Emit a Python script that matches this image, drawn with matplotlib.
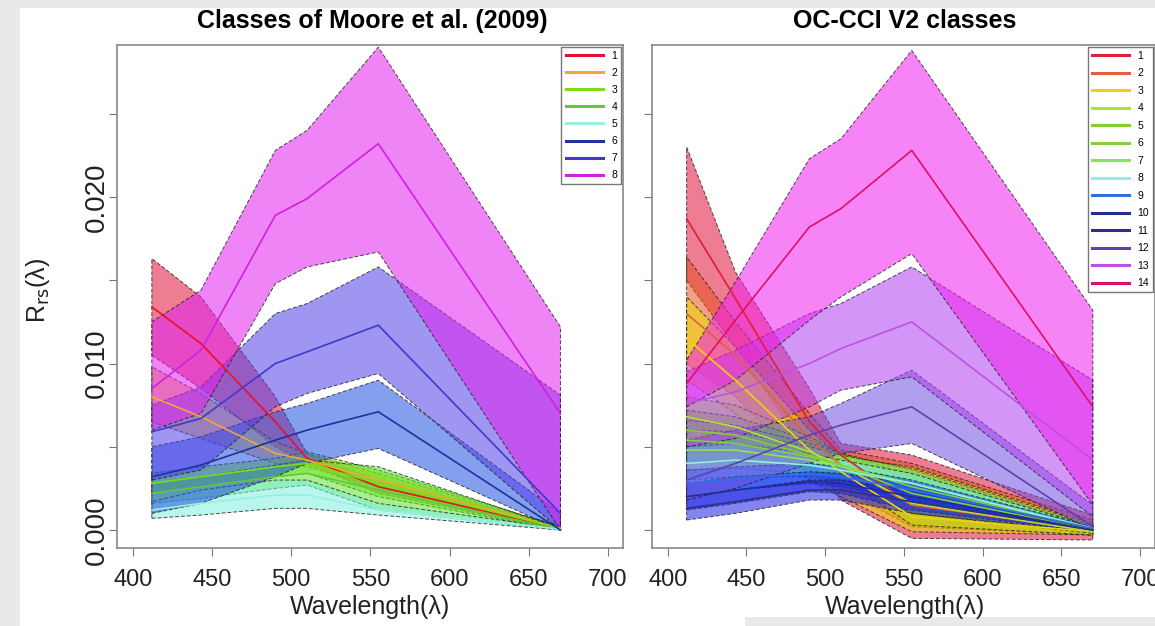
import numpy as np
import matplotlib.pyplot as plt
from matplotlib.patches import Rectangle
from matplotlib.colors import to_rgba

plt.rcParams['font.family'] = ['Liberation Sans', 'DejaVu Sans']

# band wavelengths (nm)
wl = [412, 443, 490, 510, 555, 670]

# Rrs values are given in units of 1e-3 sr^-1
# --- left panel: Moore et al. (2009), 8 classes
moore_labels = ['1', '2', '3', '4', '5', '6', '7', '8']
moore_lower = [
    [10.5, 8.5, 5.0, 4.0, 2.2, 0.0],
    [6.5, 5.5, 4.0, 3.8, 2.6, 0.0],
    [2.2, 2.6, 3.2, 3.4, 2.0, 0.0],
    [1.6, 1.9, 2.5, 2.7, 1.2, 0.0],
    [0.7, 0.9, 1.3, 1.3, 0.9, 0.0],
    [1.0, 1.6, 3.2, 4.0, 4.9, 0.0],
    [3.0, 3.6, 7.4, 8.2, 9.4, 0.0],
    [6.0, 7.0, 14.8, 15.8, 16.7, 0.0],
]
moore_mean = [
    [13.4, 11.2, 6.5, 4.3, 2.6, 0.1],
    [8.0, 6.8, 4.6, 4.2, 3.0, 0.1],
    [2.8, 3.2, 3.8, 4.0, 2.8, 0.1],
    [2.2, 2.6, 3.2, 3.4, 2.4, 0.0],
    [1.2, 1.6, 2.1, 2.1, 1.2, 0.05],
    [3.2, 3.9, 5.4, 6.0, 7.1, 0.0],
    [5.9, 6.7, 10.0, 10.7, 12.3, 1.0],
    [8.5, 10.8, 18.9, 19.9, 23.2, 7.0],
]
moore_upper = [
    [16.3, 14.0, 8.0, 4.6, 3.0, 0.3],
    [9.8, 8.2, 5.3, 4.6, 3.4, 0.2],
    [3.4, 3.8, 4.3, 4.7, 3.6, 0.2],
    [2.8, 3.2, 3.9, 4.2, 3.8, 0.1],
    [1.7, 2.4, 3.0, 3.0, 1.6, 0.1],
    [5.0, 5.6, 7.1, 7.6, 9.0, 1.0],
    [7.5, 8.6, 13.0, 13.6, 15.8, 8.1],
    [12.5, 14.4, 22.8, 24.0, 29.0, 12.2],
]
moore_lines = ['#e8102a', '#f0a838', '#78e010', '#62c83c', '#98f0e0',
               '#2030a0', '#4038d0', '#d020e0']
moore_fills = ['#e0103a', '#f0a030', '#88f010', '#60e030', '#80f0e0',
               '#2050e0', '#5040e8', '#e020f0']

# --- right panel: OC-CCI V2, 14 classes
occci_labels = [str(i) for i in range(1, 15)]
occci_lower = [
    [15.0, 11.0, 4.5, 1.8, -0.5, -0.6],
    [10.0, 8.0, 3.5, 2.5, 0.2, -0.3],
    [9.0, 7.0, 3.0, 2.0, -0.1, -0.3],
    [5.5, 5.0, 3.8, 3.2, 0.3, -0.3],
    [4.8, 4.6, 3.7, 3.2, 1.0, -0.2],
    [4.2, 4.1, 3.6, 3.2, 1.6, -0.1],
    [3.6, 3.7, 3.4, 3.1, 2.0, 0.0],
    [3.0, 3.2, 3.2, 3.0, 2.2, 0.0],
    [2.0, 2.4, 2.8, 2.6, 1.8, 0.0],
    [1.2, 1.6, 2.3, 2.2, 1.2, -0.1],
    [0.6, 1.0, 1.8, 1.8, 1.0, -0.1],
    [1.8, 2.5, 4.0, 4.6, 5.2, 0.0],
    [5.0, 5.5, 7.4, 8.4, 9.2, 0.8],
    [7.4, 9.0, 12.6, 14.0, 16.6, 1.5],
]
occci_mean = [
    [18.7, 13.9, 6.5, 4.5, 1.5, 0.0],
    [13.0, 10.5, 5.5, 3.9, 1.5, 0.0],
    [11.5, 9.0, 4.8, 3.5, 0.8, -0.1],
    [6.8, 6.2, 4.7, 3.9, 1.6, -0.1],
    [6.0, 5.7, 4.5, 3.9, 2.2, 0.0],
    [5.4, 5.2, 4.4, 3.9, 2.6, 0.1],
    [4.8, 4.8, 4.2, 3.8, 2.8, 0.1],
    [4.0, 4.2, 3.9, 3.6, 2.8, 0.1],
    [2.8, 3.1, 3.4, 3.2, 2.4, 0.1],
    [2.0, 2.4, 2.9, 2.8, 2.0, 0.0],
    [1.3, 1.7, 2.4, 2.4, 1.7, 0.0],
    [3.0, 4.0, 5.7, 6.3, 7.4, 0.2],
    [7.6, 8.3, 10.0, 10.9, 12.5, 4.2],
    [8.8, 12.6, 18.2, 19.3, 22.8, 7.4],
]
occci_upper = [
    [23.0, 15.5, 8.5, 5.2, 4.5, 0.9],
    [16.4, 12.5, 7.0, 4.8, 4.0, 0.6],
    [14.0, 11.0, 6.0, 4.4, 3.8, 0.4],
    [8.0, 7.5, 5.6, 4.6, 3.0, 0.1],
    [7.2, 6.8, 5.4, 4.6, 3.3, 0.2],
    [6.6, 6.3, 5.2, 4.6, 3.6, 0.2],
    [6.0, 5.9, 5.0, 4.5, 3.7, 0.3],
    [5.0, 5.2, 4.6, 4.2, 3.4, 0.2],
    [3.6, 3.8, 4.0, 3.8, 3.0, 0.2],
    [2.8, 3.2, 3.5, 3.4, 2.8, 0.1],
    [2.0, 2.4, 3.0, 3.0, 2.4, 0.1],
    [5.4, 6.0, 6.8, 7.6, 9.6, 1.5],
    [9.5, 10.8, 13.0, 13.6, 15.8, 9.0],
    [10.2, 14.9, 22.3, 23.5, 28.8, 13.2],
]
occci_lines = ['#e02030', '#e06040', '#f0d010', '#b0e030', '#80d030',
               '#80d040', '#90e060', '#90f0e0', '#3070e0', '#203090',
               '#303080', '#6040b0', '#c050e0', '#e0106a']
occci_fills = ['#e0103a', '#e85020', '#f0e000', '#b0e020', '#80d020',
               '#70d040', '#90e060', '#70f0f0', '#1050ff', '#1030f0',
               '#2020e0', '#7050e0', '#b040f0', '#f020f0']


def draw_panel(ax, lower, mean, upper, fills, lines, labels, spacing):
    x = np.array(wl)
    for i in range(len(labels)):
        lo = np.array(lower[i]) * 1e-3
        mn = np.array(mean[i]) * 1e-3
        up = np.array(upper[i]) * 1e-3
        ax.fill(np.r_[x, x[::-1]], np.r_[lo, up[::-1]],
                facecolor=to_rgba(fills[i], 0.55),
                edgecolor=to_rgba('#202020', 0.8), linewidth=0.7,
                linestyle=(0, (4, 2)))
        ax.plot(x, mn, color=lines[i], lw=1.2, label=labels[i])

    ax.set_xlim(390, 709.5)
    ax.set_ylim(-0.00108, 0.02913)
    ax.set_xticks(range(400, 701, 50))
    ax.set_yticks([0, 0.005, 0.010, 0.015, 0.020, 0.025])
    ax.tick_params(direction='out', length=6, color='#777777',
                   labelcolor='#222222')
    ax.tick_params(axis='x', pad=9, labelsize=17)
    ax.tick_params(axis='y', pad=-1, labelsize=20)
    for s in ax.spines.values():
        s.set_color('#888888')
        s.set_linewidth(1.2)

    leg = ax.legend(loc='upper right', fontsize=7.5, fancybox=False,
                    edgecolor='#777777', borderaxespad=0.15,
                    handlelength=3.6, labelspacing=spacing, framealpha=1)
    leg.get_frame().set_linewidth(1.0)
    for h in leg.get_lines():
        h.set_linewidth(2.2)


fig = plt.figure(figsize=(11.55, 6.26), dpi=100, facecolor='#e8e9eb')
fig.patches.append(Rectangle((20 / 1155, 0), 1, 1 - 8 / 626,
                             transform=fig.transFigure, facecolor='white',
                             edgecolor='none', zorder=-10))
fig.patches.append(Rectangle((745 / 1155, 0), 1, 9 / 626,
                             transform=fig.transFigure, facecolor='#e8e9eb',
                             edgecolor='none', zorder=-9))

ax1 = fig.add_axes([117 / 1155, 1 - 548 / 626, 506 / 1155, 503 / 626])
ax2 = fig.add_axes([652 / 1155, 1 - 548 / 626, 503 / 1155, 503 / 626])

draw_panel(ax1, moore_lower, moore_mean, moore_upper,
           moore_fills, moore_lines, moore_labels, 0.68)
draw_panel(ax2, occci_lower, occci_mean, occci_upper,
           occci_fills, occci_lines, occci_labels, 0.72)

ax1.set_yticklabels(['0.000', '', '0.010', '', '0.020', ''])
for lab in ax1.get_yticklabels():
    lab.set_rotation(90)
    lab.set_va('center')
ax2.set_yticklabels([])

fig.text(372 / 1155, 1 - 21 / 626, 'Classes of Moore et al. (2009)',
         ha='center', va='center', fontsize=18, fontweight='bold')
fig.text(905 / 1155, 1 - 21 / 626, 'OC-CCI V2 classes',
         ha='center', va='center', fontsize=18, fontweight='bold')
fig.text(370 / 1155, 1 - 607 / 626, 'Wavelength(λ)',
         ha='center', va='center', fontsize=18, color='#222222')
fig.text(905 / 1155, 1 - 607 / 626, 'Wavelength(λ)',
         ha='center', va='center', fontsize=18, color='#222222')
fig.text(38 / 1155, 1 - 290 / 626, r'R$_{\mathrm{rs}}$(λ)', rotation=90,
         ha='center', va='center', fontsize=18, color='#222222')

fig.savefig('out.png', dpi=100, facecolor=fig.get_facecolor())
